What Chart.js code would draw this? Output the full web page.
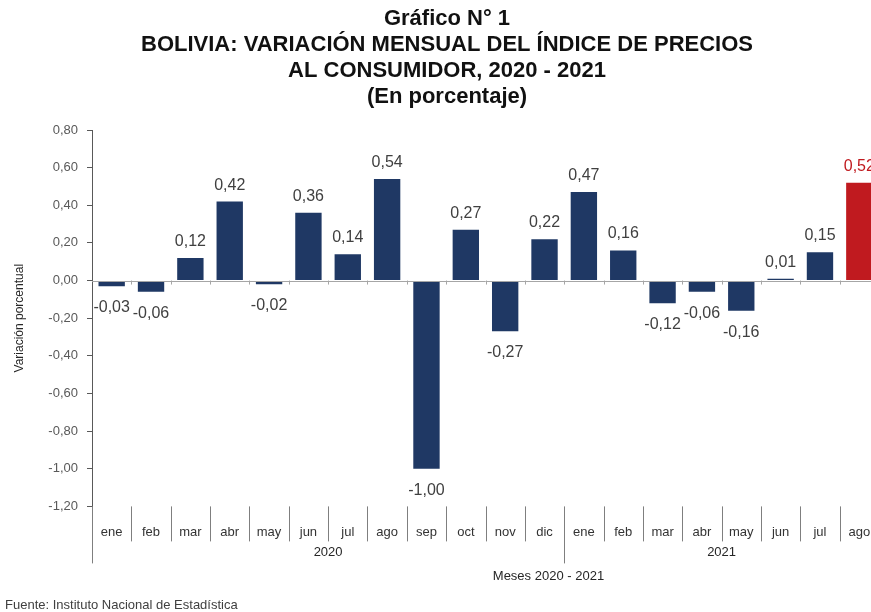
<!DOCTYPE html>
<html>
<head>
<meta charset="utf-8">
<script src="https://cdn.jsdelivr.net/npm/chart.js@4"></script>
<style>
  html, body { margin: 0; padding: 0; background: #fff; overflow: hidden; }
  #wrap { width: 895px; height: 612px; }
</style>
</head>
<body>
<div id="wrap"><canvas id="chart"></canvas></div>
<script>
// ==========================================================
// Chart data
// ==========================================================
const months = ["ene", "feb", "mar", "abr", "may", "jun", "jul", "ago", "sep", "oct", "nov", "dic",
                "ene", "feb", "mar", "abr", "may", "jun", "jul", "ago"];
const values = [-0.03, -0.06, 0.12, 0.42, -0.02, 0.36, 0.14, 0.54, -1.00, 0.27, -0.27, 0.22,
                0.47, 0.16, -0.12, -0.06, -0.16, 0.01, 0.15, 0.52];
const years = ["2020", "2021"];
const yearStart = [0, 12];   // first month index of each year
const yearEnd = [11, 19];    // last month index of each year

const titleLines = [
  "Gráfico N° 1",
  "BOLIVIA: VARIACIÓN MENSUAL DEL ÍNDICE DE PRECIOS",
  "AL CONSUMIDOR, 2020 - 2021",
  "(En porcentaje)"
];

const NAVY = "#1f3864";
const RED = "#c01a1f";
const FONT = "'Liberation Sans', Arial, sans-serif";

const fmt = v => v.toFixed(2).replace(".", ",");
const lastIdx = values.length - 1;

// ----------------------------------------------------------
// Plugin: title, zero line, separators, year labels, value labels
// ----------------------------------------------------------
const extras = {
  id: "extras",
  afterDatasetsDraw(chart) {
    const { ctx, chartArea, scales } = chart;
    const x = scales.x;
    const y = scales.y;
    const step = x.getPixelForValue(1) - x.getPixelForValue(0);
    const y0 = y.getPixelForValue(0);

    ctx.save();

    // title block
    ctx.fillStyle = "#111";
    ctx.font = "bold 22px " + FONT;
    ctx.textAlign = "center";
    ctx.textBaseline = "middle";
    titleLines.forEach((t, k) => ctx.fillText(t, 447, 19 + k * 26));

    // zero line with small ticks
    ctx.strokeStyle = "#a6a6a6";
    ctx.lineWidth = 1;
    ctx.beginPath();
    ctx.moveTo(chartArea.left, Math.round(y0) + 0.5);
    ctx.lineTo(chartArea.right, Math.round(y0) + 0.5);
    for (let i = 1; i <= months.length; i++) {
      const bx = Math.round(x.getPixelForValue(i) - step / 2) + 0.5;
      ctx.moveTo(bx, y0);
      ctx.lineTo(bx, y0 + 4);
    }
    ctx.stroke();

    // category separators below plot
    ctx.strokeStyle = "#7f7f7f";
    ctx.beginPath();
    for (let i = 0; i <= months.length; i++) {
      const bx = Math.round(x.getPixelForValue(i) - step / 2) + 0.5;
      const long = yearStart.includes(i);
      ctx.moveTo(bx, chartArea.bottom);
      ctx.lineTo(bx, chartArea.bottom + (long ? 57 : 35));
    }
    ctx.stroke();

    // year labels
    ctx.fillStyle = "#262626";
    ctx.font = "13px " + FONT;
    years.forEach((yr, k) => {
      const cx = (x.getPixelForValue(yearStart[k]) + x.getPixelForValue(yearEnd[k])) / 2;
      ctx.fillText(yr, cx, chartArea.bottom + 46);
    });

    // axis title
    ctx.fillText("Meses 2020 - 2021", chartArea.left + (chartArea.right - chartArea.left) * 0.58,
      chartArea.bottom + 70);

    // source
    ctx.textAlign = "left";
    ctx.fillStyle = "#404040";
    ctx.fillText("Fuente: Instituto Nacional de Estadística", 5, chartArea.bottom + 99);

    // value labels
    const meta = chart.getDatasetMeta(0);
    ctx.font = "16px " + FONT;
    ctx.textAlign = "center";
    ctx.textBaseline = "alphabetic";
    meta.data.forEach((bar, i) => {
      const v = values[i];
      ctx.fillStyle = i === lastIdx ? RED : "#404040";
      if (v >= 0) {
        ctx.fillText(fmt(v), bar.x, bar.y - 12);
      } else {
        ctx.fillText(fmt(v), bar.x, bar.y + 26);
      }
    });

    ctx.restore();
  }
};

new Chart(document.getElementById("chart"), {
  type: "bar",
  data: {
    labels: months,
    datasets: [{
      data: values,
      backgroundColor: values.map((v, i) => i === lastIdx ? RED : NAVY),
      categoryPercentage: 0.67,
      barPercentage: 1.0
    }]
  },
  options: {
    responsive: true,
    maintainAspectRatio: false,
    animation: false,
    layout: { padding: { left: 0, right: 16, top: 130, bottom: 62 } },
    plugins: {
      legend: { display: false },
      tooltip: { enabled: false },
      title: { display: false }
    },
    scales: {
      x: {
        grid: { display: false },
        border: { display: false },
        ticks: {
          color: "#333",
          font: { family: FONT, size: 13 },
          padding: 10,
          maxRotation: 0,
          autoSkip: false
        }
      },
      y: {
        min: -1.2,
        max: 0.8,
        afterFit: s => { s.width = 92; },
        title: {
          display: true,
          text: "Variación porcentual",
          color: "#262626",
          font: { family: FONT, size: 12 },
          padding: { top: 12, bottom: 8 }
        },
        grid: { drawOnChartArea: false, tickLength: 5, color: "#595959" },
        border: { display: true, color: "#595959" },
        ticks: {
          stepSize: 0.2,
          color: "#595959",
          font: { family: FONT, size: 13 },
          padding: 9,
          callback: v => fmt(v)
        }
      }
    }
  },
  plugins: [extras]
});
</script>
</body>
</html>
